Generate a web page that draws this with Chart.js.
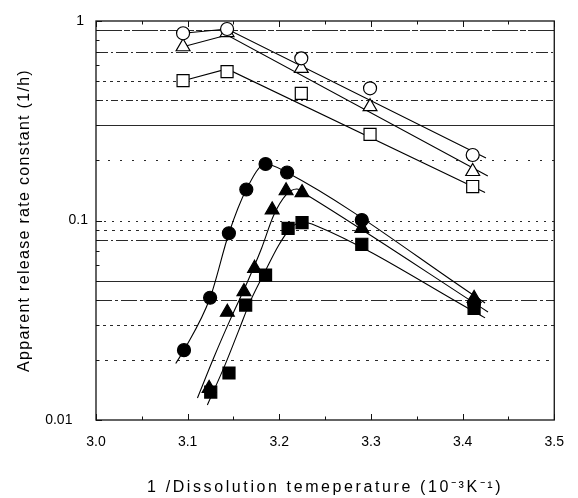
<!DOCTYPE html>
<html>
<head>
<meta charset="utf-8">
<script src="https://cdn.jsdelivr.net/npm/chart.js@4/dist/chart.umd.min.js"></script>
<style>
    html, body { margin: 0; padding: 0; background: #fff; }
</style>
</head>
<body>
<canvas id="grafico" width="578" height="498"></canvas>
<script>
// open symbols (upper group)
const openX = [3.095, 3.143, 3.224, 3.299, 3.411];
const openCircle = [0.868, 0.912, 0.650, 0.460, 0.213];
const openTriangle = [0.743, 0.875, 0.579, 0.372, 0.176];
const openSquare = [0.502, 0.557, 0.434, 0.270, 0.148];

// fitted lines drawn through the open symbols
const openCircleFitX = [3.095, 3.143, 3.4255];
const openCircleFitY = [0.868, 0.912, 0.206];
const openTriangleFitX = [3.095, 3.143, 3.4275];
const openTriangleFitY = [0.743, 0.851, 0.167];
const openSquareFitX = [3.095, 3.143, 3.4245];
const openSquareFitY = [0.502, 0.575, 0.138];

// filled symbols (lower group)
const filledCircleX = [3.096, 3.1245, 3.145, 3.164, 3.185, 3.2085, 3.29, 3.4125];
const filledCircleY = [0.0224, 0.041, 0.0863, 0.143, 0.192, 0.174, 0.1006, 0.0386];
const filledTriangleX = [3.1234, 3.1433, 3.1614, 3.173, 3.1922, 3.2074, 3.2248, 3.29, 3.4125];
const filledTriangleY = [0.0144, 0.0347, 0.044, 0.0576, 0.113, 0.141, 0.138, 0.0914, 0.0407];
const filledSquareX = [3.1252, 3.1451, 3.1633, 3.185, 3.2096, 3.2248, 3.29, 3.4125];
const filledSquareY = [0.0138, 0.0172, 0.0377, 0.0533, 0.0914, 0.0975, 0.076, 0.0363];

// fitted curves for the filled symbols
const circleCurveX = [3.087, 3.096, 3.1245, 3.145, 3.164, 3.185, 3.2085, 3.4245];
const circleCurveY = [0.0192, 0.0224, 0.041, 0.0863, 0.143, 0.192, 0.174, 0.0386];
const triangleCurveX = [3.1107, 3.1288, 3.1473, 3.1647, 3.1799, 3.194, 3.2071, 3.219, 3.232, 3.4277];
const triangleCurveY = [0.0129, 0.0207, 0.0325, 0.0486, 0.0711, 0.1066, 0.1342, 0.1438, 0.1327, 0.0348];
const squareCurveX = [3.1215, 3.1408, 3.156, 3.169, 3.1842, 3.1995, 3.2125, 3.2255, 3.2408, 3.4245];
const squareCurveY = [0.0119, 0.0189, 0.0283, 0.0400, 0.0552, 0.0754, 0.0917, 0.0983, 0.0939, 0.0325];

// axes
const xTickValues = [3.0, 3.05, 3.1, 3.15, 3.2, 3.25, 3.3, 3.35, 3.4, 3.45, 3.5];
const yLabelValues = [0.01, 0.1, 1];
const yLabelTexts = ['0.01    ', '0.1', '1 '];
const yMinorValues = [0.02, 0.03, 0.04, 0.05, 0.06, 0.07, 0.08, 0.09, 0.2, 0.3, 0.4, 0.5, 0.6, 0.7, 0.8, 0.9];

// horizontal guide lines of the scan and their dash patterns
const gridValues = [0.9, 0.7, 0.5, 0.4, 0.3, 0.2, 0.1, 0.09, 0.08, 0.05, 0.04, 0.03, 0.02];
const gridDashes = [[26, 2, 6, 2], [12, 3, 2, 3], [3, 4], [7, 3, 2, 3], [], [2, 10], [2, 6], [3, 5], [12, 3, 2, 3], [], [16, 3, 3, 3], [3, 4], [3, 6]];

const toPoints = (xs, ys) => xs.map((x, i) => ({ x: x, y: ys[i] }));

function markers(xs, ys, style, filled, radius) {
    return {
        data: toPoints(xs, ys),
        showLine: false,
        pointStyle: style,
        pointRadius: radius,
        pointHoverRadius: radius,
        pointBackgroundColor: filled ? '#000' : '#fff',
        pointBorderColor: '#000',
        pointBorderWidth: 1.2
    };
}

function fitLine(xs, ys, smooth) {
    return {
        data: toPoints(xs, ys),
        showLine: true,
        pointRadius: 0,
        borderColor: '#000',
        borderWidth: 1.1,
        tension: 0,
        cubicInterpolationMode: smooth ? 'monotone' : 'default'
    };
}

// guide lines under the data
const gridLinesPlugin = {
    id: 'gridLines',
    beforeDatasetsDraw(chart) {
        const { ctx, chartArea, scales } = chart;
        ctx.save();
        ctx.strokeStyle = '#2a2a2a';
        ctx.lineWidth = 1;
        gridValues.forEach((v, i) => {
            const y = Math.round(scales.y.getPixelForValue(v)) + 0.5;
            ctx.setLineDash(gridDashes[i]);
            ctx.beginPath();
            ctx.moveTo(chartArea.left, y);
            ctx.lineTo(chartArea.right, y);
            ctx.stroke();
        });
        ctx.restore();
    }
};

// frame and inward tick marks
const framePlugin = {
    id: 'frame',
    afterDatasetsDraw(chart) {
        const { ctx, chartArea, scales } = chart;
        const { left, right, top, bottom } = chartArea;
        ctx.save();
        ctx.strokeStyle = '#111';
        ctx.lineWidth = 1.3;
        ctx.strokeRect(left, top, right - left, bottom - top);
        ctx.lineWidth = 1;
        ctx.beginPath();
        xTickValues.forEach(v => {
            const x = Math.round(scales.x.getPixelForValue(v)) + 0.5;
            const len = Math.abs(v * 10 - Math.round(v * 10)) < 0.01 ? 6 : 3.5;
            ctx.moveTo(x, bottom);
            ctx.lineTo(x, bottom - len);
            ctx.moveTo(x, top);
            ctx.lineTo(x, top + len);
        });
        yLabelValues.concat(yMinorValues).forEach(v => {
            const y = Math.round(scales.y.getPixelForValue(v)) + 0.5;
            const len = yLabelValues.includes(v) ? 6 : 3.5;
            ctx.moveTo(left, y);
            ctx.lineTo(left + len, y);
        });
        ctx.stroke();
        ctx.restore();
    }
};

// the scanned axis titles are widely spaced
const titleSpacing = { x: '2.6px', y: '1.3px' };
const titleSpacingPlugin = {
    id: 'titleSpacing',
    beforeDraw(chart) {
        ['x', 'y'].forEach(id => {
            const scale = chart.scales[id];
            if (scale._spaced) return;
            const original = scale.drawTitle.bind(scale);
            scale.drawTitle = function () {
                this.ctx.save();
                this.ctx.letterSpacing = titleSpacing[id];
                original();
                this.ctx.restore();
            };
            scale._spaced = true;
        });
    }
};

const ctx = document.getElementById('grafico').getContext('2d');
new Chart(ctx, {
    type: 'scatter',
    data: {
        datasets: [
            markers(openX, openCircle, 'circle', false, 6.5),
            markers(openX, openTriangle, 'triangle', false, 8),
            markers(openX, openSquare, 'rect', false, 8.5),
            markers(filledCircleX, filledCircleY, 'circle', true, 6.5),
            markers(filledTriangleX, filledTriangleY, 'triangle', true, 8),
            markers(filledSquareX, filledSquareY, 'rect', true, 8.5),
            fitLine(openCircleFitX, openCircleFitY, false),
            fitLine(openTriangleFitX, openTriangleFitY, false),
            fitLine(openSquareFitX, openSquareFitY, false),
            fitLine(circleCurveX, circleCurveY, true),
            fitLine(triangleCurveX, triangleCurveY, true),
            fitLine(squareCurveX, squareCurveY, true)
        ]
    },
    options: {
        responsive: false,
        animation: false,
        devicePixelRatio: 1,
        layout: { padding: { top: 21, right: 21, left: 0, bottom: 0 } },
        plugins: {
            legend: { display: false },
            tooltip: { enabled: false }
        },
        scales: {
            x: {
                type: 'linear',
                min: 3.0,
                max: 3.5,
                afterBuildTicks: scale => {
                    scale.ticks = [3.0, 3.1, 3.2, 3.3, 3.4, 3.5].map(v => ({ value: v }));
                },
                afterFit: scale => { scale.height = 78; },
                ticks: {
                    autoSkip: false,
                    maxRotation: 0,
                    padding: 14,
                    color: '#000',
                    font: { family: '"Liberation Sans", Arial, sans-serif', size: 14 },
                    callback: v => Number(v).toFixed(1)
                },
                grid: { display: false, drawTicks: false },
                border: { display: false },
                title: {
                    display: true,
                    text: '1 /Dissolution temeperature (10⁻³K⁻¹)',
                    color: '#000',
                    font: { family: '"Liberation Sans", Arial, sans-serif', size: 16 },
                    padding: { top: 0, bottom: 1 }
                }
            },
            y: {
                type: 'logarithmic',
                min: 0.01,
                max: 1,
                afterBuildTicks: scale => {
                    scale.ticks = yLabelValues.map(v => ({ value: v }));
                },
                afterFit: scale => { scale.width = 96; },
                ticks: {
                    autoSkip: false,
                    padding: 8,
                    color: '#000',
                    font: { family: '"Liberation Sans", Arial, sans-serif', size: 14 },
                    callback: (v, i) => yLabelTexts[i]
                },
                grid: { display: false, drawTicks: false },
                border: { display: false },
                title: {
                    display: true,
                    text: 'Apparent release rate constant (1/h)',
                    color: '#000',
                    font: { family: '"Liberation Sans", Arial, sans-serif', size: 16 },
                    padding: { top: 15, bottom: 0 }
                }
            }
        }
    },
    plugins: [gridLinesPlugin, framePlugin, titleSpacingPlugin]
});
</script>
</body>
</html>
